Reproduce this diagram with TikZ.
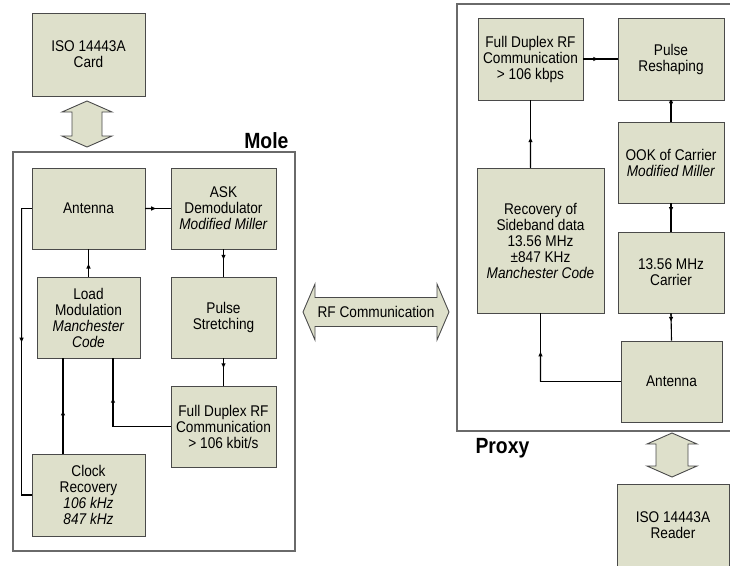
\documentclass[tikz,border=0pt]{standalone}
\usepackage{fontspec}
\setmainfont{Liberation Sans}[FakeStretch=0.88]
\usetikzlibrary{arrows.meta,calc}
\definecolor{boxfill}{HTML}{DEE0CB}
\definecolor{boxline}{HTML}{4A4A4A}
\definecolor{frameline}{HTML}{6A6A6A}
\tikzset{
  blk/.style={draw=boxline,fill=boxfill,line width=0.9pt,align=center,
    font=\fontsize{15.5}{16}\selectfont,inner sep=2pt},
  link/.style={line width=1.1pt},
  head/.style={line width=1.1pt,-{Latex[length=5.5pt,width=4.5pt]}},
  bigarrow/.style={draw=boxline,fill=boxfill,line width=0.9pt},
  frame/.style={draw=frameline,line width=1.3pt},
  title/.style={font=\fontsize{22}{24}\selectfont\bfseries}
}
\begin{document}
\begin{tikzpicture}[x=1pt,y=-1pt]
\useasboundingbox (0,0) rectangle (730,565);
% Mole side
\node[blk,minimum width=113pt,minimum height=83pt] (card) at (88.5,54.5) {ISO 14443A\\Card};
\draw[bigarrow] (87,101) -- (112,112) -- (102,112) -- (102,136) -- (112,136) -- (87,147)
  -- (62,136) -- (72,136) -- (72,112) -- (62,112) -- cycle;
\draw[frame] (13,152) rectangle (295,551);
\node[title,anchor=base east] (mole) at (292,148) {Mole};
\node[blk,minimum width=113pt,minimum height=81pt] (antL) at (88.5,208.5) {Antenna};
\node[blk,minimum width=105pt,minimum height=81pt] (ask) at (223.5,208.5) {ASK\\Demodulator\\\textit{Modified Miller}};
\node[blk,minimum width=103pt,minimum height=81pt] (load) at (88.5,317.5) {Load\\Modulation\\\textit{Manchester}\\\textit{Code}};
\node[blk,minimum width=105pt,minimum height=81pt] (pulse) at (223.5,317.5) {Pulse\\Stretching};
\node[blk,minimum width=105pt,minimum height=81pt] (fdL) at (223.5,426.5) {Full Duplex RF\\Communication\\> 106 kbit/s};
\node[blk,minimum width=113pt,minimum height=82pt] (clock) at (88.5,495) {Clock\\Recovery\\\textit{106 kHz}\\\textit{847 kHz}};
\coordinate (fdcorner) at ([xshift=24.5pt]load.south |- fdL.west);
\coordinate (clktop) at ([xshift=-25.5pt]clock.north);
\coordinate (ldbot) at (clktop |- load.south);
\coordinate (antcorner) at ([xshift=-10pt]antL.west);
\coordinate (clkcorner) at (antcorner |- clock.west);
\draw[link] (antL.east) -- (ask.west);
\draw[head] (antL.east) -- ($(antL.east)!0.45!(ask.west)$);
\draw[link] (load.north) -- (antL.south);
\draw[head] (load.north) -- ($(load.north)!0.5!(antL.south)$);
\draw[link] (ask.south) -- (pulse.north);
\draw[head] (ask.south) -- ($(ask.south)!0.4!(pulse.north)$);
\draw[link] (pulse.south) -- (fdL.north);
\draw[head] (pulse.south) -- ($(pulse.south)!0.38!(fdL.north)$);
\draw[link] (fdL.west) -- (fdcorner) -- ([xshift=24.5pt]load.south);
\draw[head] (fdcorner) -- ($(fdcorner)!0.43!([xshift=24.5pt]load.south)$);
\draw[link] (clktop) -- (ldbot);
\draw[head] (clktop) -- ($(clktop)!0.46!(ldbot)$);
\draw[link] (antL.west) -- (antcorner) -- (clkcorner) -- (clock.west);
\draw[head] (antcorner) -- ($(antcorner)!0.47!(clkcorner)$);
% RF link
\draw[bigarrow] (303,312) -- (315,284) -- (315,297.5) -- (437,297.5) -- (437,284) -- (449,312)
  -- (437,340) -- (437,326.5) -- (315,326.5) -- (315,340) -- cycle;
\node[font=\fontsize{15.5}{16}\selectfont] (rf) at (376,312) {RF Communication};
% Proxy side
\draw[frame] (735,4) -- (457,4) -- (457,431) -- (735,431);
\node[title,anchor=base west] (proxy) at (472,453) {Proxy};
\node[blk,minimum width=105pt,minimum height=82pt] (fdR) at (530.5,59) {Full Duplex RF\\Communication\\> 106 kbps};
\node[blk,minimum width=106pt,minimum height=82pt] (reshape) at (671,59) {Pulse\\Reshaping};
\node[blk,minimum width=106pt,minimum height=81pt] (ook) at (671,162.5) {OOK of Carrier\\\textit{Modified Miller}};
\node[blk,minimum width=127pt,minimum height=145pt] (recov) at (540.5,240.5) {Recovery of\\Sideband data\\13.56 MHz\\±847 KHz\\\textit{Manchester Code}};
\node[blk,minimum width=106pt,minimum height=81pt] (carrier) at (671,272.5) {13.56 MHz\\Carrier};
\node[blk,minimum width=101pt,minimum height=81pt] (antR) at (671.5,381.5) {Antenna};
\node[blk,minimum width=112pt,minimum height=82pt] (reader) at (673,525) {ISO 14443A\\Reader};
\coordinate (rectop) at (fdR.south |- recov.north);
\coordinate (antRcorner) at (recov.south |- antR.west);
\draw[link] (fdR.east) -- (reshape.west);
\draw[head] (fdR.east) -- ($(fdR.east)!0.45!(reshape.west)$);
\draw[link] (rectop) -- (fdR.south);
\draw[head] (rectop) -- ($(rectop)!0.46!(fdR.south)$);
\draw[link] (reshape.south) -- (ook.north);
\draw[head] (reshape.south) -- ($(reshape.south)!0.32!(ook.north)$);
\draw[link] (ook.south) -- (carrier.north);
\draw[head] (ook.south) -- ($(ook.south)!0.33!(carrier.north)$);
\draw[link] (carrier.south) -- (antR.north);
\draw[head] (carrier.south) -- ($(carrier.south)!0.33!(antR.north)$);
\draw[link] (antR.west) -- (antRcorner) -- (recov.south);
\draw[head] (antRcorner) -- ($(antRcorner)!0.45!(recov.south)$);
\draw[bigarrow] (672,433) -- (697,444) -- (688,444) -- (688,466) -- (697,466) -- (672,477)
  -- (647,466) -- (656,466) -- (656,444) -- (647,444) -- cycle;
\end{tikzpicture}
\end{document}
